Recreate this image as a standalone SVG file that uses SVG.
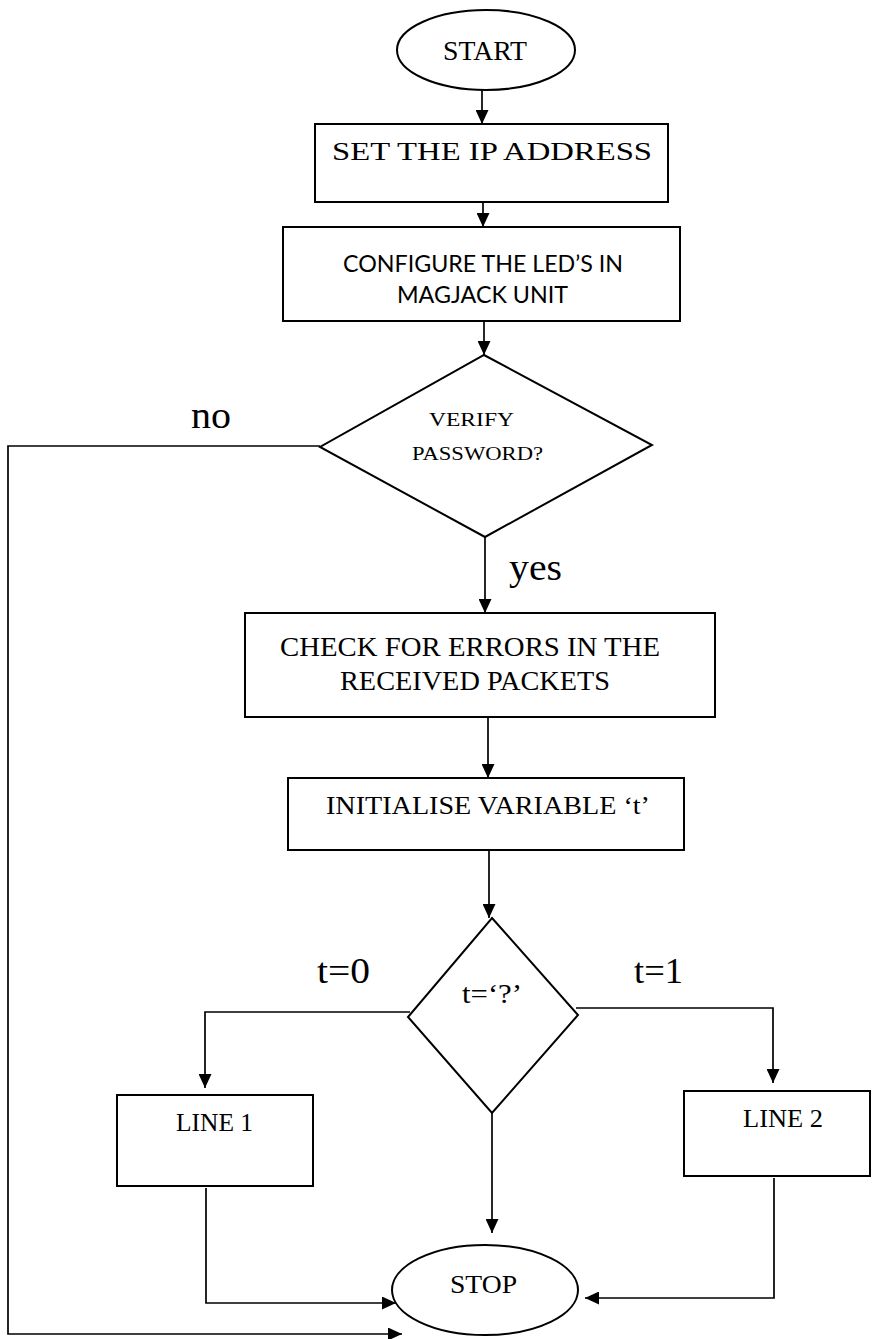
<svg xmlns="http://www.w3.org/2000/svg" width="872" height="1339" viewBox="0 0 872 1339">
  <style>
    .shape { fill: #ffffff; stroke: #000000; stroke-width: 2; }
    .wire { fill: none; stroke: #000000; stroke-width: 1.7; }
    .serif { font-family: "Liberation Serif", "Times New Roman", serif; fill: #000000; }
    .sans { font-family: Lato, "Liberation Sans", sans-serif; fill: #000000; }
  </style>
  <defs>
    <marker id="arrow" markerUnits="userSpaceOnUse" markerWidth="14" markerHeight="13" refX="14" refY="6.5" orient="auto">
      <path d="M0,0 L14,6.5 L0,13 Z" fill="#000000"/>
    </marker>
  </defs>

  <rect width="872" height="1339" fill="#ffffff"/>

  <!-- connectors -->
  <g id="connectors">
    <path class="wire" d="M482,90 V124" marker-end="url(#arrow)"/>
    <path class="wire" d="M483,202 V227" marker-end="url(#arrow)"/>
    <path class="wire" d="M484,321 V355" marker-end="url(#arrow)"/>
    <path class="wire" d="M320,446 H8 V1334 H402" marker-end="url(#arrow)"/>
    <path class="wire" d="M485,537 V613" marker-end="url(#arrow)"/>
    <path class="wire" d="M488,717 V778" marker-end="url(#arrow)"/>
    <path class="wire" d="M489,850 V918" marker-end="url(#arrow)"/>
    <path class="wire" d="M410,1012 H205 V1088" marker-end="url(#arrow)"/>
    <path class="wire" d="M576,1008 H773 V1083" marker-end="url(#arrow)"/>
    <path class="wire" d="M492,1113 V1233" marker-end="url(#arrow)"/>
    <path class="wire" d="M206,1188 V1303 H396" marker-end="url(#arrow)"/>
    <path class="wire" d="M774,1178 V1298 H585" marker-end="url(#arrow)"/>
    <text class="serif" x="191" y="428" font-size="38" textLength="40" lengthAdjust="spacingAndGlyphs">no</text>
    <text class="serif" x="509" y="580" font-size="38" textLength="53" lengthAdjust="spacingAndGlyphs">yes</text>
    <text class="serif" x="317" y="983" font-size="35" textLength="53" lengthAdjust="spacingAndGlyphs">t=0</text>
    <text class="serif" x="634" y="983" font-size="35" textLength="49" lengthAdjust="spacingAndGlyphs">t=1</text>
  </g>

  <g id="start">
    <ellipse class="shape" cx="486" cy="50" rx="89" ry="40"/>
    <text class="serif" x="485" y="60" font-size="28" text-anchor="middle" textLength="84" lengthAdjust="spacingAndGlyphs">START</text>
  </g>

  <g id="set-ip">
    <rect class="shape" x="315" y="124" width="353" height="78"/>
    <text class="serif" x="332" y="160" font-size="26" textLength="320" lengthAdjust="spacingAndGlyphs">SET THE IP ADDRESS</text>
  </g>

  <g id="configure-leds">
    <rect class="shape" x="283" y="227" width="397" height="94"/>
    <text class="sans" x="343" y="272" font-size="24" textLength="280" lengthAdjust="spacingAndGlyphs">CONFIGURE THE LED’S IN</text>
    <text class="sans" x="397" y="303" font-size="24" textLength="171" lengthAdjust="spacingAndGlyphs">MAGJACK UNIT</text>
  </g>

  <g id="verify-password">
    <polygon class="shape" points="484,355 652,445 485,537 320,447"/>
    <text class="serif" x="429" y="426" font-size="19" textLength="85" lengthAdjust="spacingAndGlyphs">VERIFY</text>
    <text class="serif" x="412" y="460" font-size="19" textLength="131" lengthAdjust="spacingAndGlyphs">PASSWORD?</text>
  </g>

  <g id="check-errors">
    <rect class="shape" x="245" y="613" width="470" height="104"/>
    <text class="serif" x="280" y="656" font-size="28" textLength="380" lengthAdjust="spacingAndGlyphs">CHECK FOR ERRORS IN THE</text>
    <text class="serif" x="340" y="690" font-size="28" textLength="270" lengthAdjust="spacingAndGlyphs">RECEIVED PACKETS</text>
  </g>

  <g id="init-variable">
    <rect class="shape" x="288" y="778" width="396" height="72"/>
    <text class="serif" x="326" y="814" font-size="26" textLength="324" lengthAdjust="spacingAndGlyphs">INITIALISE VARIABLE ‘t’</text>
  </g>

  <g id="t-decision">
    <polygon class="shape" points="492,918 578,1015 492,1113 408,1017"/>
    <text class="serif" x="462" y="1003" font-size="27" textLength="60" lengthAdjust="spacingAndGlyphs">t=‘?’</text>
  </g>

  <g id="line-1">
    <rect class="shape" x="117" y="1095" width="196" height="91"/>
    <text class="serif" x="176" y="1131" font-size="25" textLength="77" lengthAdjust="spacingAndGlyphs">LINE 1</text>
  </g>

  <g id="line-2">
    <rect class="shape" x="684" y="1091" width="186" height="85"/>
    <text class="serif" x="743" y="1127" font-size="25" textLength="80" lengthAdjust="spacingAndGlyphs">LINE 2</text>
  </g>

  <g id="stop">
    <ellipse class="shape" cx="485" cy="1290" rx="93" ry="45"/>
    <text class="serif" x="450" y="1293" font-size="25" textLength="67" lengthAdjust="spacingAndGlyphs">STOP</text>
  </g>
</svg>
